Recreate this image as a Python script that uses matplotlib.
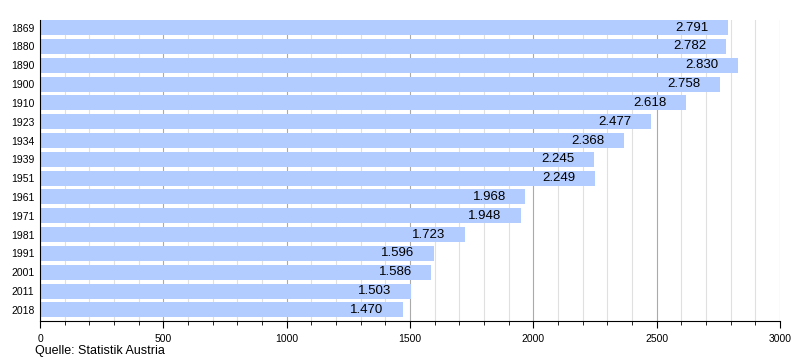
import numpy as np
import matplotlib
matplotlib.use("Agg")
import matplotlib.pyplot as plt
from matplotlib.ticker import MultipleLocator

# Einwohner je Volkszählungsjahr
jahre = ["1869", "1880", "1890", "1900", "1910", "1923", "1934", "1939",
         "1951", "1961", "1971", "1981", "1991", "2001", "2011", "2018"]
einwohner = [2791, 2782, 2830, 2758, 2618, 2477, 2368, 2245,
             2249, 1968, 1948, 1723, 1596, 1586, 1503, 1470]

plt.rcParams["font.family"] = ["Liberation Sans", "DejaVu Sans"]

fig = plt.figure(figsize=(8, 3.6), dpi=100)
ax = fig.add_axes([0.05, 0.108, 0.925, 0.836])

y = np.arange(len(jahre))
ax.barh(y, einwohner, height=0.8, color="#b3ccff", zorder=2)

for yi, v in zip(y, einwohner):
    txt = f"{v / 1000:.3f}"
    ax.annotate(txt, (v, yi), xytext=(-14, 0), textcoords="offset points",
                ha="right", va="center", fontsize=9.5, color="black", zorder=3)

ax.set_xlim(0, 3000)
ax.set_ylim(15.6, -0.4)
ax.set_yticks(y)
ax.set_yticklabels(jahre, fontsize=7.5)
ax.tick_params(axis="y", length=0, pad=4)

ax.xaxis.set_major_locator(MultipleLocator(500))
ax.xaxis.set_minor_locator(MultipleLocator(100))
ax.tick_params(axis="x", which="major", length=5, labelsize=7.5, pad=4)
ax.tick_params(axis="x", which="minor", length=3)
ax.grid(axis="x", which="major", color="#aaaaaa", linewidth=0.8, zorder=0)
ax.grid(axis="x", which="minor", color="#e0e0e0", linewidth=0.8, zorder=0)
ax.set_axisbelow(True)

for s in ["top", "right"]:
    ax.spines[s].set_visible(False)
ax.spines["left"].set_color("black")
ax.spines["bottom"].set_color("black")

fig.text(0.044, 0.008, "Quelle: Statistik Austria", fontsize=9, ha="left", va="bottom")

fig.savefig("out.png", dpi=100)
